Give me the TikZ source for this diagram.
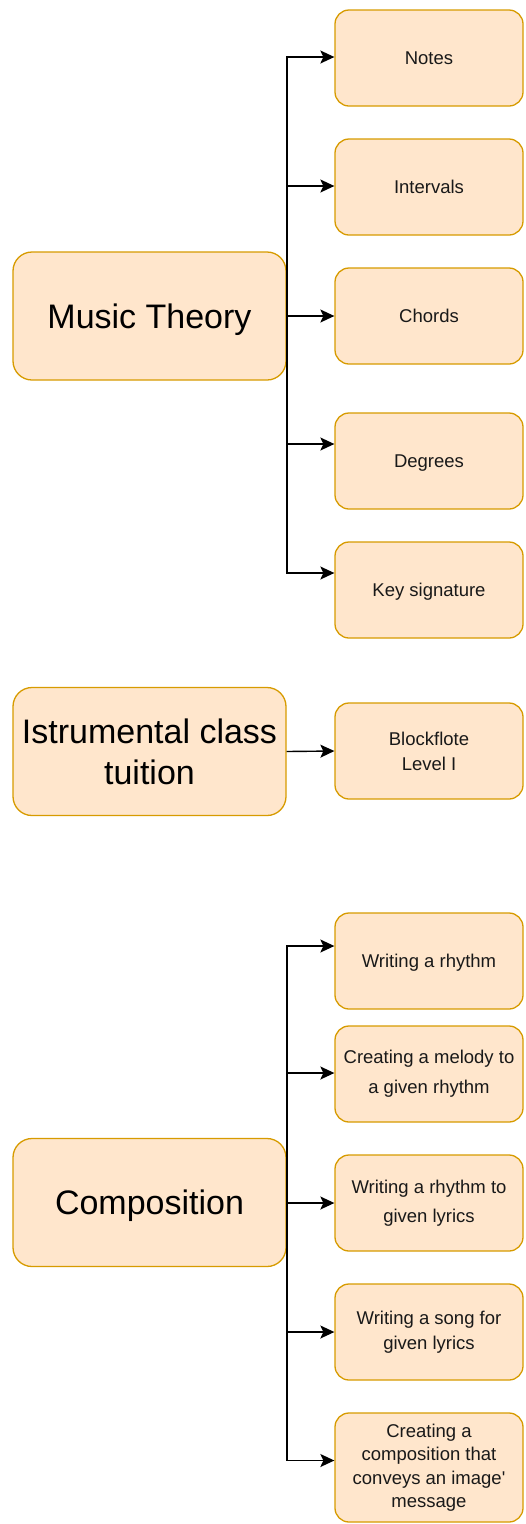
\documentclass[tikz,border=0pt]{standalone}
\usepackage{fontspec}
\setmainfont{Liberation Sans}[Ligatures=TeXOff]
\usetikzlibrary{arrows.meta}
\definecolor{boxfill}{HTML}{FFE6CC}
\definecolor{boxdraw}{HTML}{D79B00}
\tikzset{
  bigbox/.style={draw=boxdraw, fill=boxfill, line width=1.3pt, rounded corners=19pt,
    minimum width=273pt, minimum height=128pt, inner sep=0pt, align=center,
    font=\fontsize{34}{41}\selectfont, text=black},
  smallbox/.style={draw=boxdraw, fill=boxfill, line width=1.3pt, rounded corners=14pt,
    minimum width=188pt, minimum height=96pt, inner sep=0pt, align=center,
    font=\fontsize{18.5}{24}\selectfont, text=black!90},
  oneline/.style={text depth=0pt},
  arr/.style={draw=black, line width=1.4pt, -{Stealth[length=14pt,width=13pt,inset=3pt]}},
}
\begin{document}
\begin{tikzpicture}[x=1pt,y=-1pt]
\useasboundingbox (0,0) rectangle (525,1524);
% left boxes
\node[bigbox, oneline] (mt) at (149.5,316) {Music Theory};
\node[bigbox] (ic) at (149.5,751.5) {Istrumental class\\tuition};
\node[bigbox, oneline] (co) at (149.5,1202.5) {Composition};
% right boxes (music theory)
\node[smallbox, oneline] (notes) at (429,58) {Notes};
\node[smallbox, oneline] (intv) at (429,187) {Intervals};
\node[smallbox, oneline] (chords) at (429,316) {Chords};
\node[smallbox, oneline] (deg) at (429,461) {Degrees};
\node[smallbox, oneline] (key) at (429,590) {Key signature};
% instrumental
\node[smallbox, font=\fontsize{18.5}{25}\selectfont] (blk) at (429,751) {Blockflote\\Level I};
% composition
\node[smallbox, oneline] (wr) at (429,961) {Writing a rhythm};
\node[smallbox, font=\fontsize{18.5}{30}\selectfont] (cm) at (429,1074) {Creating a melody to\\a given rhythm};
\node[smallbox, font=\fontsize{18.5}{29}\selectfont] (wrl) at (429,1203) {Writing a rhythm to\\given lyrics};
\node[smallbox, font=\fontsize{18.5}{24.5}\selectfont] (ws) at (429,1332) {Writing a song for\\given lyrics};
\node[smallbox, font=\fontsize{18.5}{23.5}\selectfont, minimum height=109pt] (cc) at (429,1467.5) {Creating a\\composition that\\conveys an image'\\message};
% trunk points
\coordinate (t1) at (287,316);
\coordinate (t3) at (287,1202.5);
% music theory connectors
\draw[arr] (mt.east) -- (t1) |- ([yshift=1pt]notes.west);
\draw[arr] (mt.east) -- (t1) |- ([yshift=1pt]intv.west);
\draw[arr] (mt.east) -- (chords.west);
\draw[arr] (mt.east) -- (t1) |- ([yshift=17pt]deg.west);
\draw[arr] (mt.east) -- (t1) |- ([yshift=17pt]key.west);
% instrumental connector
\draw[arr] (ic.east) -- (blk.west);
% composition connectors
\draw[arr] (co.east) -- (t3) |- ([yshift=15pt]wr.west);
\draw[arr] (co.east) -- (t3) |- ([yshift=1pt]cm.west);
\draw[arr] (co.east) -- (t3) |- (wrl.west);
\draw[arr] (co.east) -- (t3) |- (ws.west);
\draw[arr] (co.east) -- (t3) |- ([yshift=7pt]cc.west);
\end{tikzpicture}
\end{document}
